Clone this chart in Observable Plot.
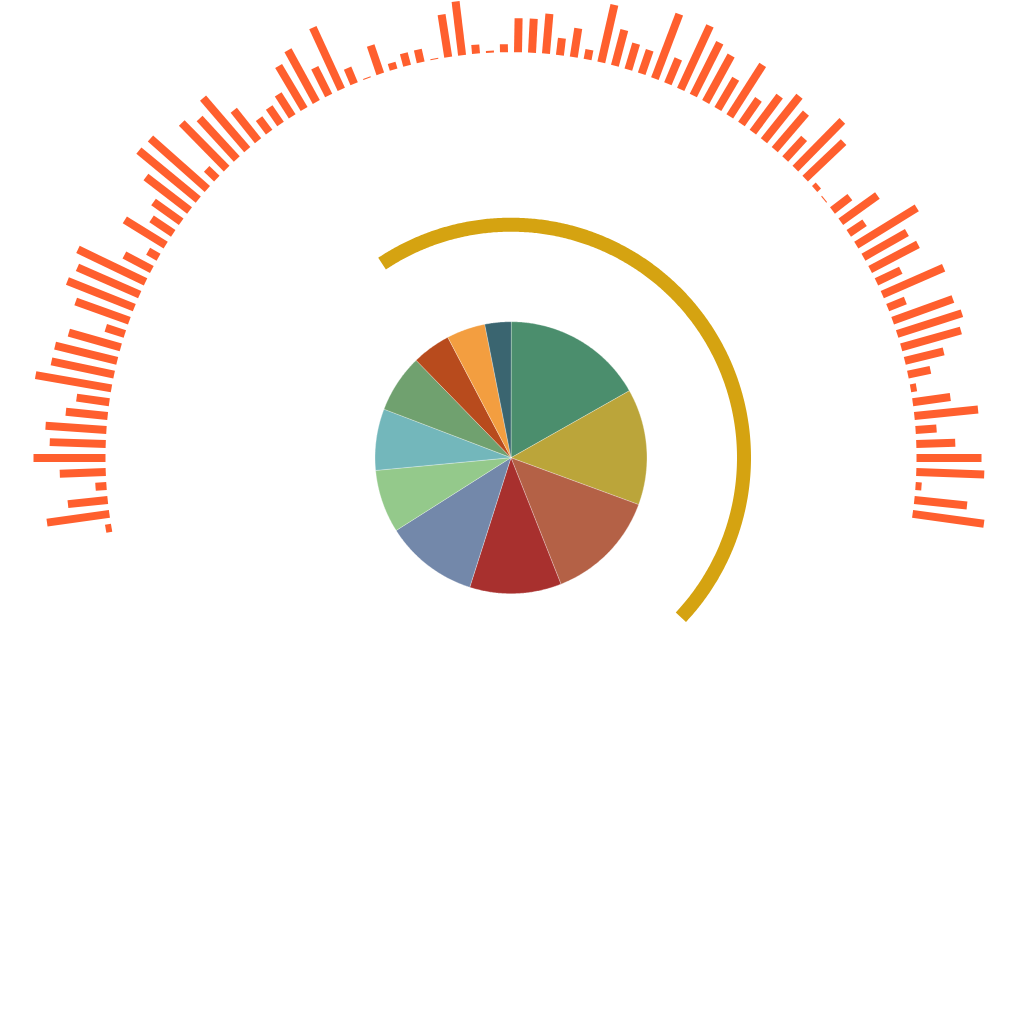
<!DOCTYPE html>
<html>
<head>
<meta charset="utf-8">
<script src="https://cdn.jsdelivr.net/npm/d3@7"></script>
<script src="https://cdn.jsdelivr.net/npm/@observablehq/plot@0.6"></script>
<style>
  html, body { margin: 0; padding: 0; background: #ffffff; }
  #chart svg { display: block; }
</style>
</head>
<body>
<div id="chart"></div>
<script>
// ---------------- data ----------------
// radial bars, clockwise from the lower-left end of the arc
const barValues = [
  6, 63, 40, 11, 46, 72, 56, 61, 42, 33,
  77, 64, 64, 54, 20, 57, 72, 68, 75, 31,
  12, 48, 26, 34, 55, 77, 76, 14, 64, 55,
  68, 39, 17, 20, 26, 50, 59, 31, 68, 17,
  1, 30, 7, 13, 13, 1, 43, 54, 9, 2,
  8,
  34, 34, 40, 17, 29, 10, 59, 37, 27, 25,
  69, 27, 70, 59, 53, 35, 61, 30, 45, 57,
  48, 28, 67, 53, 5, 1, 22, 45, 19, 71,
  50, 54, 27, 67, 19, 64, 68, 62, 40, 23,
  6, 38, 64, 21, 39, 65, 68, 6, 53, 72
];

// pie slices, clockwise from 12 o'clock
const pieCategories = ["A", "B", "C", "D", "E", "F", "G", "H", "I", "J", "K"];
const pieValues = [16.8, 13.8, 13.4, 10.9, 11.1, 7.5, 7.3, 6.9, 4.6, 4.6, 3.1];
const pieColors = ["#4b8e6d", "#bba53a", "#b46146", "#a8302e", "#7388aa",
                   "#94c98b", "#73b7bb", "#70a16f", "#b84b1d", "#f39e40", "#3a6570"];

// gauge ring (fraction of a full turn)
const gaugeValue = 0.4633;

// ---------------- styles / geometry ----------------
const barColor = "#ff5f2e";
const ringColor = "#d5a311";
const arcStart = -99.94, arcEnd = 97.96;   // degrees, clockwise from top
const barBase = 405.5, barUnit = 1;        // inner radius, px per unit
const pieR = 136;
const ringR = 233, ringStart = -33.6;

const rad = d => d * Math.PI / 180;
const polar = (r, deg) => ({x: r * Math.sin(rad(deg)), y: r * Math.cos(rad(deg))});

const angle = d3.scalePoint().domain(d3.range(barValues.length)).range([arcStart, arcEnd]);
const radius = d3.scaleLinear().domain([0, 100]).range([barBase, barBase + 100 * barUnit]);

const bars = barValues.map((v, i) => {
  const a = angle(i);
  const p1 = polar(radius(0), a), p2 = polar(radius(v), a);
  return {x1: p1.x, y1: p1.y, x2: p2.x, y2: p2.y, v};
});

const pieArcs = d3.pie().sort(null)(pieValues);
const pieRows = pieArcs.flatMap((a, s) => {
  const rows = [{cat: pieCategories[s], x: 0, y: 0}];
  const n = Math.max(2, Math.ceil((a.endAngle - a.startAngle) * 180 / Math.PI / 0.5));
  for (let j = 0; j <= n; j++) {
    const t = a.startAngle + (a.endAngle - a.startAngle) * j / n;
    rows.push({cat: pieCategories[s], x: pieR * Math.sin(t), y: pieR * Math.cos(t)});
  }
  return rows;
});

const ringEnd = ringStart + gaugeValue * 360;
const ringRows = d3.range(0, 1.0001, 1 / 400).map(f => polar(ringR, ringStart + f * (ringEnd - ringStart)));

const chart = Plot.plot({
  width: 1024,
  height: 1024,
  margin: 0,
  style: {background: "#ffffff"},
  x: {domain: [-510.5, 513.5], axis: null},
  y: {domain: [-566.8, 457.2], axis: null},
  color: {type: "ordinal", domain: pieCategories, range: pieColors},
  marks: [
    Plot.line(ringRows, {x: "x", y: "y", stroke: ringColor, strokeWidth: 14,
      strokeLinecap: "butt", strokeLinejoin: "round"}),
    Plot.line(pieRows, {x: "x", y: "y", z: "cat", fill: "cat", stroke: "#ffffff",
      strokeWidth: 0.6, strokeOpacity: 0.55, curve: "linear-closed"}),
    Plot.link(bars, {x1: "x1", y1: "y1", x2: "x2", y2: "y2",
      stroke: barColor, strokeWidth: 8, strokeLinecap: "butt"})
  ]
});

document.getElementById("chart").appendChild(chart);
</script>
</body>
</html>
